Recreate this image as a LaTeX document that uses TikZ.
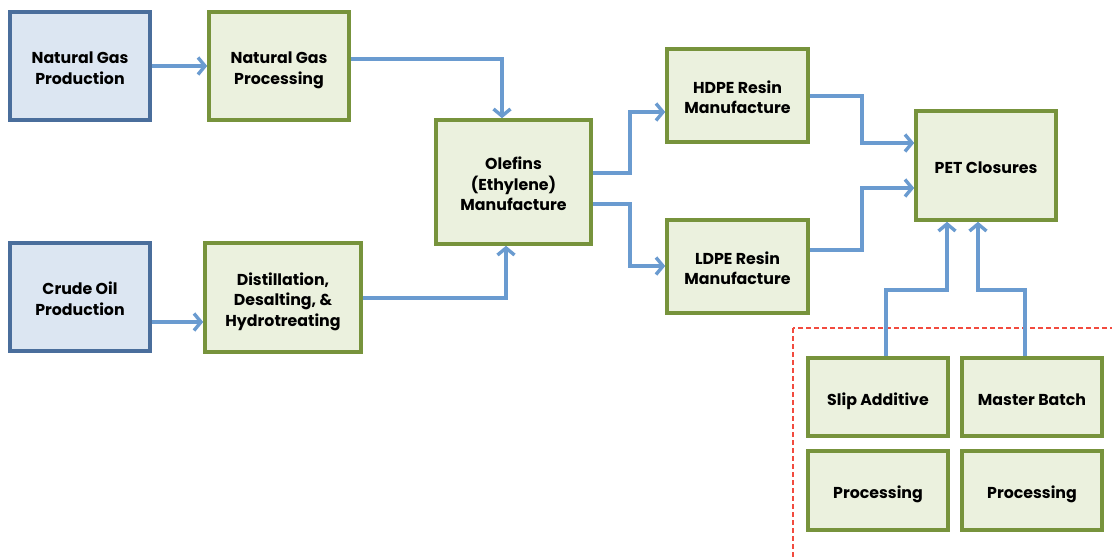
\documentclass[tikz,border=0pt]{standalone}
\usepackage{fontspec}
\setmainfont{Poppins}
\usetikzlibrary{arrows.meta,shadows}
\definecolor{gfill}{HTML}{EBF1DE}
\definecolor{gline}{HTML}{77933C}
\definecolor{bfill}{HTML}{DCE6F2}
\definecolor{bline}{HTML}{4A6E9C}
\definecolor{arr}{HTML}{6A9BD0}
\definecolor{dred}{HTML}{F24B3F}
\tikzset{
  base/.style={draw, line width=3.6pt, inner sep=0pt, align=center,
    font=\fontsize{15.8}{20.5}\selectfont\bfseries,
    drop shadow={shadow xshift=1.5pt,shadow yshift=-1.5pt,opacity=0.25}},
  gbox/.style={base, fill=gfill, draw=gline},
  bbox/.style={base, fill=bfill, draw=bline},
  conn/.style={draw=arr, line width=3.6pt, -{Straight Barb[length=7pt,width=17pt,line width=3.4pt]}},
  redbox/.style={draw=dred, line width=1.6pt, dash pattern=on 5pt off 3pt}
}
\newcommand{\bx}[7]{% style, name, x1, y1, x2, y2, text
  \node[#1, minimum width={#5-#3}, minimum height={#6-#4}] (#2) at ({(#3+#5)/2},{(#4+#6)/2})
    {\rule{0pt}{21pt}#7\rule[-5pt]{0pt}{5pt}};}
\begin{document}
\begin{tikzpicture}[x=1pt,y=-1pt]
\useasboundingbox (0,0) rectangle (1112,558);
\begin{scope}
\clip (0,0) rectangle (1112,558);
\draw[redbox] (793,328) rectangle (1130,580);
\end{scope}
\bx{bbox}{ngp}{10}{12}{150}{120}{Natural Gas\\Production}
\bx{gbox}{ngproc}{209}{12}{349}{120}{Natural Gas\\Processing}
\bx{bbox}{cop}{10}{243}{150}{351}{Crude Oil\\Production}
\bx{gbox}{dist}{205}{243}{361}{352}{Distillation,\\Desalting, \&\\Hydrotreating}
\bx{gbox}{ole}{436}{120}{591}{244}{Olefins\\(Ethylene)\\Manufacture}
\bx{gbox}{hdpe}{667}{49}{808}{142}{HDPE Resin\\Manufacture}
\bx{gbox}{ldpe}{667}{220}{808}{313}{LDPE Resin\\Manufacture}
\bx{gbox}{pet}{916}{111}{1056}{220}{PET Closures}
\bx{gbox}{slip}{808}{358}{948}{436}{Slip Additive}
\bx{gbox}{mb}{962}{358}{1102}{436}{Master Batch}
\bx{gbox}{proc1}{808}{451}{948}{530}{Processing}
\bx{gbox}{proc2}{962}{451}{1102}{530}{Processing}

\draw[conn] (ngp.east) -- (ngproc.west);
\draw[conn] (ngproc.east |- 0,59) -| (ole.north -| 502,0);
\draw[conn] (cop.east |- 0,322) -- (dist.west |- 0,322);
\draw[conn] (dist.east |- 0,298) -| (ole.south -| 506,0);
\draw[conn] (ole.east |- 0,173) -- (630,173) |- (hdpe.west |- 0,112);
\draw[conn] (ole.east |- 0,204) -- (630,204) |- (ldpe.west |- 0,266);
\draw[conn] (hdpe.east |- 0,96) -- (862,96) |- (pet.west |- 0,143);
\draw[conn] (ldpe.east |- 0,250) -- (862,250) |- (pet.west |- 0,188);
\draw[conn] (slip.north -| 886,0) -- (886,290) -| (pet.south -| 947,0);
\draw[conn] (mb.north -| 1025,0) -- (1025,290) -| (pet.south -| 978,0);
\end{tikzpicture}
\end{document}
